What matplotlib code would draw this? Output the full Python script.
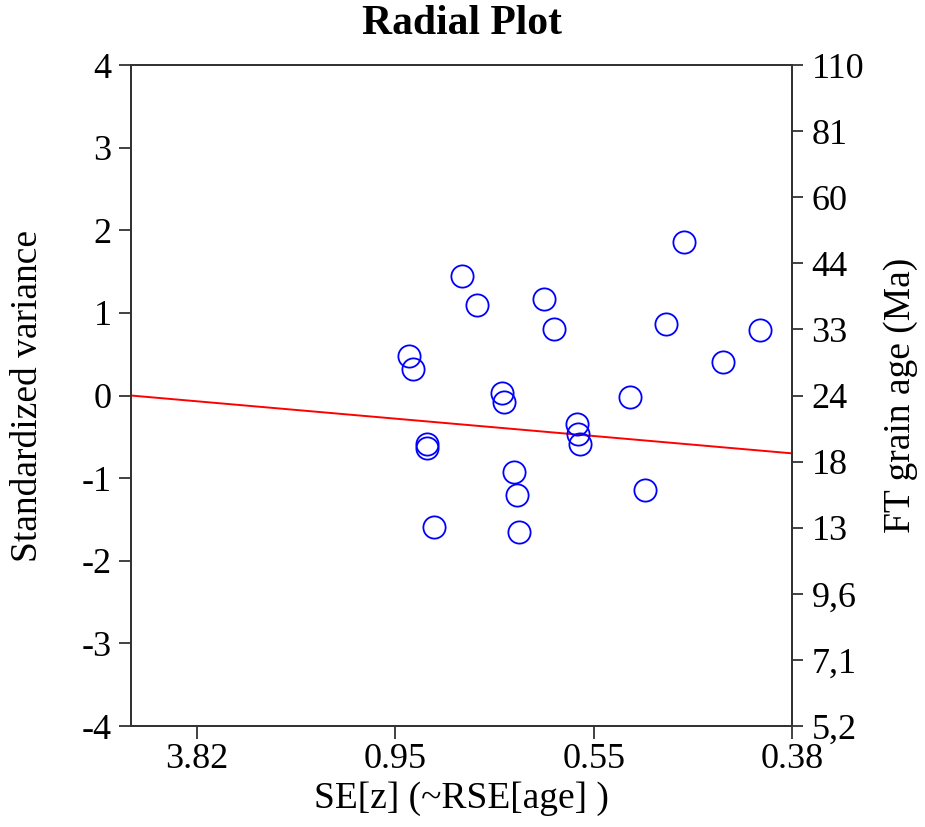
import matplotlib
matplotlib.use("Agg")
import matplotlib.pyplot as plt
import numpy as np

plt.rcParams['font.family'] = ['Liberation Serif', 'DejaVu Serif']

# precision (1/SE) and standardized estimate of each grain
precision = [1.108, 1.125, 1.317, 1.377, 1.644, 1.687, 1.477, 1.487, 1.179, 1.179,
             1.527, 1.538, 1.208, 1.547, 1.775, 1.780, 1.787, 1.989, 2.046, 2.130,
             2.203, 2.359, 2.507]
z_std = [0.48, 0.32, 1.45, 1.09, 1.17, 0.80, 0.03, -0.08, -0.59, -0.64,
         -0.92, -1.20, -1.59, -1.65, -0.35, -0.46, -0.59, -0.02, -1.14, 0.86,
         1.86, 0.41, 0.79]

x_max = 2.633
x_ticklabels = ['3.82', '0.95', '0.55', '0.38']
left_ticks = [-4, -3, -2, -1, 0, 1, 2, 3, 4]
age_labels = ['5,2', '7,1', '9,6', '13', '18', '24', '33', '44', '60', '81', '110']
central_end = -0.70   # central age line value at the right edge

fig = plt.figure(figsize=(9.25, 8.27), dpi=100)
ax = fig.add_axes([0.1416, 0.1221, 0.7146, 0.7993])

ax.plot([0, x_max], [0, central_end], color='red', lw=1.4, zorder=1)
ax.plot(precision, z_std, 'o', ms=16, mfc='none', mec='blue', mew=1.3, zorder=2)

ax.set_xlim(0, x_max)
ax.set_ylim(-4, 4)
ax.set_xticks([x_max * f for f in (0.1, 0.4, 0.7, 1.0)])
ax.set_xticklabels(x_ticklabels)
ax.set_yticks(left_ticks)
ax.set_yticklabels([str(v) for v in left_ticks])
ax.tick_params(labelsize=26, length=9, width=1.3, color='#333333', pad=5)
ax.tick_params(axis='x', pad=3)
for s in ax.spines.values():
    s.set_linewidth(1.4)
    s.set_color('#333333')

ax.set_xlabel('SE[z] (~RSE[age] )', fontsize=27, labelpad=4)
ax.set_ylabel('Standardized variance', fontsize=27, labelpad=26)
ax.set_title('Radial Plot', fontsize=30, fontweight='bold', pad=22)

ax2 = ax.twinx()
ax2.set_ylim(-4, 4)
ax2.set_yticks(np.linspace(-4, 4, len(age_labels)))
ax2.set_yticklabels(age_labels)
ax2.tick_params(labelsize=26, length=8, width=1.3, color='#333333', pad=6)
for s in ax2.spines.values():
    s.set_linewidth(1.4)
    s.set_color('#333333')
ax2.set_ylabel('FT grain age (Ma)', fontsize=27, labelpad=14)

fig.savefig('out.png', dpi=100)
